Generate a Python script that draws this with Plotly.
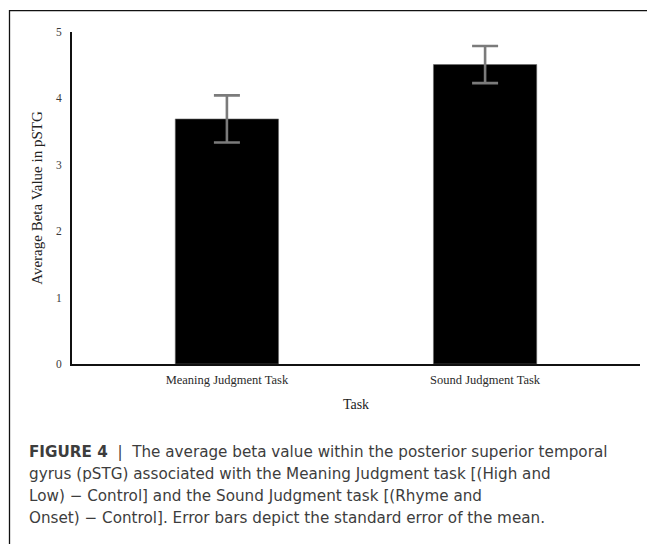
import plotly.graph_objects as go

categories = ["Meaning Judgment Task", "Sound Judgment Task"]
beta_means = [3.69, 4.51]
beta_sem = [0.355, 0.28]
y_ticks = [0, 1, 2, 3, 4, 5]

caption_lines = [
    "<b>FIGURE 4</b>  |  The average beta value within the posterior superior temporal",
    "gyrus (pSTG) associated with the Meaning Judgment task [(High and",
    "Low) \u2212 Control] and the Sound Judgment task [(Rhyme and",
    "Onset) \u2212 Control]. Error bars depict the standard error of the mean.",
]

# the page body has an 8px default margin; targets below are window pixels
OFF = 8
W, H = 655 - OFF, 544 - OFF
ml, mt = 72 - OFF, 32 - OFF
plot_right, plot_bottom = 640 - OFF, 364 - OFF
mr, mb = W - plot_right, H - plot_bottom
pw, ph = W - ml - mr, H - mt - mb

def px_to_paper_x(px):
    return (px - OFF - ml) / pw

def px_to_paper_y(py):
    return (plot_bottom - (py - OFF)) / ph

fig = go.Figure()
fig.add_trace(go.Bar(
    x=list(range(len(categories))),
    y=beta_means,
    width=0.4,
    marker=dict(color="#000000", line=dict(color="#6a6a6a", width=0.6)),
    error_y=dict(type="data", array=beta_sem, visible=True,
                 color="#7b7b7b", thickness=2.6, width=13),
    showlegend=False,
    hoverinfo="skip",
))

serif = "Liberation Serif, Times New Roman, serif"
sans = "DejaVu Sans, Liberation Sans, Arial, sans-serif"

fig.update_layout(
    width=W, height=H,
    margin=dict(l=ml, r=mr, t=mt, b=mb, pad=0),
    paper_bgcolor="white",
    plot_bgcolor="white",
    xaxis=dict(
        range=[-0.6, 1.6],
        tickmode="array",
        tickvals=list(range(len(categories))),
        ticktext=categories,
        showgrid=False, zeroline=False,
        showline=True, linecolor="#111111", linewidth=2,
        ticks="", ticklabelstandoff=3,
        tickfont=dict(family=serif, size=12.5, color="#2a2a2a"),
        title=dict(text="Task", font=dict(family=serif, size=14, color="#222222"),
                   standoff=13),
    ),
    yaxis=dict(
        range=[0, 5],
        tickmode="array",
        tickvals=y_ticks,
        ticktext=[str(v) for v in y_ticks],
        showgrid=False, zeroline=False,
        showline=True, linecolor="#111111", linewidth=2,
        ticks="", ticklabelstandoff=6,
        tickfont=dict(family=serif, size=11.5, color="#3a3a3a"),
        title=dict(text="Average Beta Value in pSTG",
                   font=dict(family=serif, size=15, color="#222222"),
                   standoff=10),
    ),
)

# outer figure frame (open on the right and bottom, as cropped)
fig.add_shape(type="rect", xref="paper", yref="paper",
              x0=px_to_paper_x(9.5), x1=px_to_paper_x(700),
              y0=px_to_paper_y(700), y1=px_to_paper_y(10.7),
              line=dict(color="#111111", width=1.3), fillcolor="rgba(0,0,0,0)",
              layer="below")

line_y = [452, 474, 496, 518]
for txt, yy in zip(caption_lines, line_y):
    fig.add_annotation(text=txt, xref="paper", yref="paper",
                       x=px_to_paper_x(27), y=px_to_paper_y(yy),
                       xanchor="left", yanchor="middle", showarrow=False,
                       font=dict(family=sans, size=15.2, color="#3d3d3d"))

fig.write_html("out.html")
